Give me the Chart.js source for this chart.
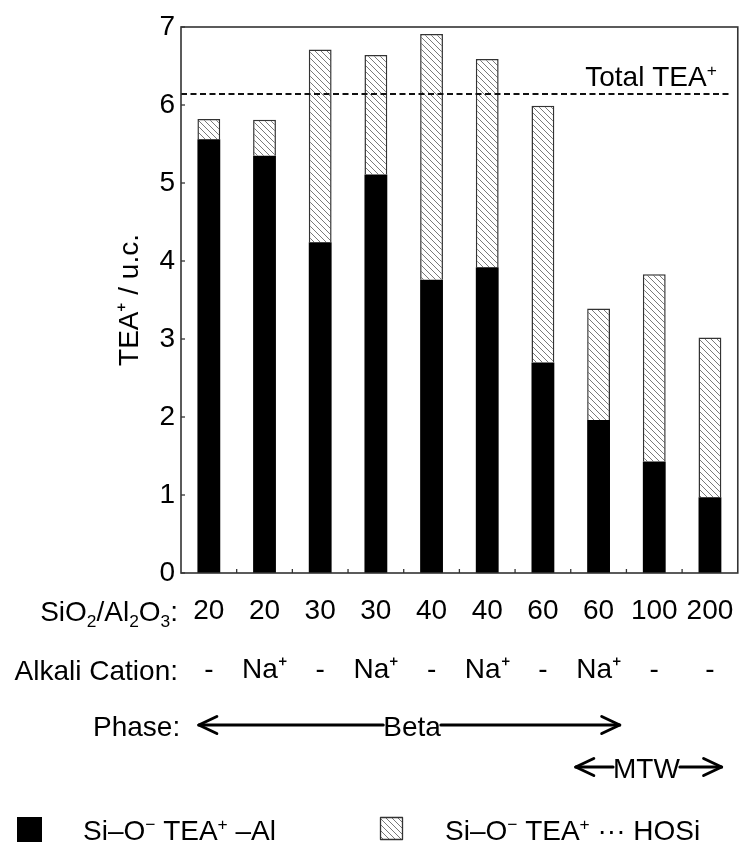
<!DOCTYPE html>
<html><head><meta charset="utf-8">
<script src="https://cdn.jsdelivr.net/npm/chart.js@4"></script>
<style>html,body{margin:0;padding:0;background:#fff;}#wrap{width:742px;height:843px;}</style>
</head><body><div id="wrap"><canvas id="c" width="742" height="843"></canvas></div>
<script>
// ---- data ----
const sio2Ratios   = ['20','20','30','30','40','40','60','60','100','200'];
const alkaliCations = ['-','Na⁺','-','Na⁺','-','Na⁺','-','Na⁺','-','-'];
const teaAl   = [5.56, 5.35, 4.24, 5.11, 3.76, 3.92, 2.70, 1.96, 1.43, 0.97];   // Si–O⁻ TEA⁺ –Al
const teaHOSi = [0.26, 0.46, 2.47, 1.53, 3.15, 2.67, 3.29, 1.43, 2.40, 2.05];   // Si–O⁻ TEA⁺ ··· HOSi
const totalTEA = 6.14;
const yTicks = [0,1,2,3,4,5,6,7];
// phase spans in category-index units
const phases = [
  {name:'Beta', from:-0.18, to:7.38, at:3.65, row:0},
  {name:'MTW',  from:6.59,  to:9.21, at:7.86, row:1}
];

const FONT = '"Liberation Sans", Arial, Helvetica, sans-serif';
const FS = 28;
Chart.defaults.font.family = FONT;
Chart.defaults.color = '#000';

function makeHatch(){
  const s = 6;
  const c = document.createElement('canvas'); c.width = s; c.height = s;
  const g = c.getContext('2d');
  g.fillStyle = '#fff'; g.fillRect(0,0,s,s);
  g.strokeStyle = '#7a7a7a'; g.lineWidth = 1;
  g.beginPath();
  g.moveTo(-1,-1); g.lineTo(s+1,s+1);
  g.moveTo(-1,s-1); g.lineTo(1,s+1);
  g.moveTo(s-1,-1); g.lineTo(s+1,1);
  g.stroke();
  return g.createPattern(c,'repeat');
}
const hatch = makeHatch();

// rich text: parts = [{t, sup?, sub?}], y = visual middle
function richParts(ctx, parts, size){
  return parts.map(p=>{
    const fs = (p.sup||p.sub) ? size*0.62 : size;
    ctx.font = fs + 'px ' + FONT;
    return {p, fs, w: ctx.measureText(p.t).width};
  });
}
function drawRich(ctx, parts, x, y, size, align){
  const items = richParts(ctx, parts, size);
  const total = items.reduce((a,b)=>a+b.w,0);
  let cx = align==='right' ? x-total : align==='center' ? x-total/2 : x;
  const base = y + size*0.358;
  ctx.textAlign = 'left'; ctx.textBaseline = 'alphabetic'; ctx.fillStyle = '#000';
  items.forEach(it=>{
    ctx.font = it.fs + 'px ' + FONT;
    let by = base;
    if (it.p.sup) by = base - size*0.36;
    if (it.p.sub) by = base + size*0.2;
    ctx.fillText(it.p.t, cx, by);
    cx += it.w;
  });
  return total;
}

function line(ctx,x1,y1,x2,y2){ctx.beginPath();ctx.moveTo(x1,y1);ctx.lineTo(x2,y2);ctx.stroke();}
function arrowHead(ctx,x,y,dir){ // dir -1 = pointing left
  ctx.beginPath();
  ctx.moveTo(x - dir*18, y - 8.5);
  ctx.lineTo(x, y);
  ctx.lineTo(x - dir*18, y + 8.5);
  ctx.stroke();
}

const decor = {
  id:'decor',
  afterDraw(chart){
    const {ctx, chartArea:a, scales:{x,y}} = chart;
    ctx.save();
    // total TEA dashed line
    const ty = y.getPixelForValue(totalTEA);
    ctx.strokeStyle = '#111'; ctx.lineWidth = 2; ctx.setLineDash([6,3.5]);
    line(ctx, a.left, ty, a.right-7, ty);
    ctx.setLineDash([]);
    drawRich(ctx, [{t:'Total TEA'},{t:'+',sup:true}], a.right-21, ty-18, FS, 'right');
    // frame
    ctx.strokeStyle = '#333'; ctx.lineWidth = 1.6;
    ctx.strokeRect(a.left, a.top, a.right-a.left, a.bottom-a.top);
    // inward ticks
    ctx.lineWidth = 1.3;
    yTicks.forEach(v=>{const p=y.getPixelForValue(v); line(ctx,a.left,p,a.left+4,p);});
    for(let i=0;i<sio2Ratios.length-1;i++){
      const p = x.getPixelForValue(i+0.5);
      line(ctx,p,a.bottom,p,a.bottom-4);
    }
    // row headers
    const r1 = a.bottom + 38, r2 = a.bottom + 97;
    drawRich(ctx, [{t:'SiO'},{t:'2',sub:true},{t:'/Al'},{t:'2',sub:true},{t:'O'},{t:'3',sub:true},{t:':'}], 178, r1, FS, 'right');
    drawRich(ctx, [{t:'Alkali Cation:'}], 178, r2, FS, 'right');
    // phase row
    const p0 = a.bottom + 153;
    drawRich(ctx, [{t:'Phase:'}], 93, p0, FS, 'left');
    ctx.strokeStyle = '#000'; ctx.lineWidth = 3; ctx.lineCap = 'round'; ctx.lineJoin = 'round';
    phases.forEach(ph=>{
      const yy = p0 - 1 + ph.row*42;
      const xl = x.getPixelForValue(ph.from), xr = x.getPixelForValue(ph.to), xc = x.getPixelForValue(ph.at);
      ctx.font = FS + 'px ' + FONT;
      const w = ctx.measureText(ph.name).width;
      line(ctx, xl, yy, xc - w/2, yy);
      line(ctx, xc + w/2, yy, xr, yy);
      arrowHead(ctx, xl, yy, -1);
      arrowHead(ctx, xr, yy, 1);
      drawRich(ctx, [{t:ph.name}], xc, yy+1, FS, 'center');
    });
    // legend
    const ly = 830;
    ctx.fillStyle = '#000'; ctx.fillRect(17, 817, 25, 25);
    drawRich(ctx, [{t:'Si–O'},{t:'−',sup:true},{t:' TEA'},{t:'+',sup:true},{t:' –Al'}], 83, ly, FS, 'left');
    ctx.fillStyle = hatch; ctx.fillRect(380, 817, 23, 23);
    ctx.strokeStyle = '#333'; ctx.lineWidth = 1.3; ctx.lineCap='butt';
    ctx.strokeRect(380.5, 817.5, 22, 22);
    drawRich(ctx, [{t:'Si–O'},{t:'−',sup:true},{t:' TEA'},{t:'+',sup:true},{t:' ··· HOSi'}], 445, ly, FS, 'left');
    ctx.restore();
  }
};

new Chart(document.getElementById('c').getContext('2d'), {
  type:'bar',
  data:{
    labels: sio2Ratios.map((r,i)=>[r, alkaliCations[i]]),
    datasets:[
      {label:'Si–O⁻ TEA⁺ –Al', data:teaAl, backgroundColor:'#000', borderColor:'#000', borderWidth:0,
       barPercentage:0.41, categoryPercentage:1},
      {label:'Si–O⁻ TEA⁺ ··· HOSi', data:teaHOSi, backgroundColor:hatch, borderColor:'#333', borderWidth:1.5,
       barPercentage:0.41, categoryPercentage:1}
    ]
  },
  options:{
    responsive:false, animation:false,
    layout:{padding:{top:27, right:4, left:0, bottom:0}},
    plugins:{legend:{display:false}, tooltip:{enabled:false}},
    scales:{
      x:{stacked:true, grid:{display:false, drawTicks:false}, border:{display:false},
         ticks:{font:{size:FS, lineHeight:'59px'}, color:'#000', padding:8.5, autoSkip:false, maxRotation:0},
         afterFit(s){s.height = 270;}},
      y:{stacked:true, min:0, max:7,
         afterBuildTicks(s){s.ticks = yTicks.map(v=>({value:v}));},
         ticks:{font:{size:FS}, color:'#000', padding:6},
         grid:{display:false, drawTicks:false}, border:{display:false},
         title:{display:true, text:'TEA⁺ / u.c.', font:{size:FS}, color:'#000', padding:{top:113, bottom:0}},
         afterFit(s){s.width = 181;}}
    }
  },
  plugins:[decor]
});
</script></body></html>
